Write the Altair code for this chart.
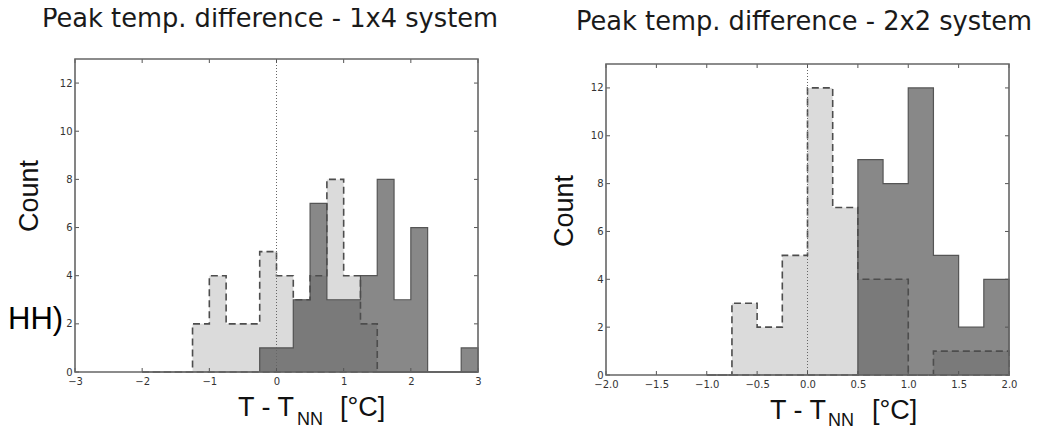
import altair as alt
import pandas as pd

# ---------------- text ----------------
TITLES = ["Peak temp. difference - 1x4 system", "Peak temp. difference - 2x2 system"]
Y_TITLE = "Count"
X_TITLE_MAIN = "T - T"
X_TITLE_SUB = "NN"
X_TITLE_UNIT = "[°C]"
SIDE_TEXT = "HH)"

# ---------------- data: left panel (1x4 system) ----------------
L_EDGES = [-2.0, -1.75, -1.5, -1.25, -1.0, -0.75, -0.5, -0.25, 0.0, 0.25,
           0.5, 0.75, 1.0, 1.25, 1.5, 1.75, 2.0, 2.25, 2.5, 2.75, 3.0]
L_LIGHT = [0, 0, 0, 2, 4, 2, 2, 5, 4, 3, 4, 8, 4, 2, 0, 0, 0, 0, 0, 0]
L_DARK = [0, 0, 0, 0, 0, 0, 0, 1, 1, 3, 7, 3, 3, 4, 8, 3, 6, 0, 0, 1]
L_XDOM = [-3, 3]
L_XTICKS = [-3, -2, -1, 0, 1, 2, 3]

# ---------------- data: right panel (2x2 system) ----------------
R_EDGES = [-1.0, -0.75, -0.5, -0.25, 0.0, 0.25, 0.5, 0.75, 1.0, 1.25, 1.5, 1.75, 2.0]
R_LIGHT = [0, 3, 2, 5, 12, 7, 4, 4, 0, 1, 1, 1]
R_DARK = [0, 0, 0, 0, 0, 0, 9, 8, 12, 5, 2, 4]
R_XDOM = [-2, 2]
R_XTICKS = [-2.0, -1.5, -1.0, -0.5, 0.0, 0.5, 1.0, 1.5, 2.0]

Y_DOM = [0, 13]
Y_TICKS = [0, 2, 4, 6, 8, 10, 12]
REF_LINE = [0]

TICK_FONT = "DejaVu Sans"
LABEL_FONT = "Liberation Sans"


def step_table(edges, counts):
    return pd.DataFrame({"x": edges, "c": list(counts) + [counts[-1]]})


def panel(edges, light, dark, xdom, xticks, xfmt, W, H, ox, ytop,
          title, tpos, cpos, xtpos, side=None):
    xs = alt.Scale(domain=xdom, range=[ox, W], nice=False, zero=False)
    ys = alt.Scale(domain=Y_DOM, range=[H, ytop], nice=False)
    xaxis = alt.Axis(values=xticks, format=xfmt, ticks=False, tickSize=0, domain=False,
                     grid=False, labelFont=TICK_FONT, labelFontSize=10, labelColor="#333333",
                     labelPadding=4, labelFlush=False, labelOverlap=False, title=None)
    yaxis = alt.Axis(values=Y_TICKS, format="d", ticks=False, tickSize=0, domain=False,
                     grid=False, labelFont=TICK_FONT, labelFontSize=10, labelColor="#333333",
                     labelPadding=3, labelOverlap=False, title=None, offset=-ox)

    dark_area = alt.Chart(step_table(edges, dark)).mark_area(
        interpolate="step-after", fill="#888888", fillOpacity=1,
        stroke="#555555", strokeWidth=1.2, strokeOpacity=1
    ).encode(x=alt.X("x:Q", scale=xs, axis=xaxis), y=alt.Y("c:Q", scale=ys, axis=yaxis))

    light_area = alt.Chart(step_table(edges, light)).mark_area(
        interpolate="step-after", fill="#3f3f3f", fillOpacity=0.19,
        stroke="#4d4d4d", strokeWidth=1.6, strokeOpacity=1, strokeDash=[7, 4]
    ).encode(x=alt.X("x:Q", scale=xs, axis=xaxis), y=alt.Y("c:Q", scale=ys, axis=yaxis))

    zero_rule = alt.Chart(pd.DataFrame({"v": REF_LINE})).mark_rule(
        color="#666666", strokeWidth=1, strokeDash=[1, 2]
    ).encode(x=alt.X("v:Q", scale=xs, axis=xaxis), y=alt.value(ytop), y2=alt.value(H))

    xt_df = pd.DataFrame({"v": xticks})
    yt_df = pd.DataFrame({"v": Y_TICKS})
    tick_style = dict(color="#555555", strokeWidth=1)
    xt_bottom = alt.Chart(xt_df).mark_rule(**tick_style).encode(
        x=alt.X("v:Q", scale=xs, axis=xaxis), y=alt.value(H - 4), y2=alt.value(H))
    xt_top = alt.Chart(xt_df).mark_rule(**tick_style).encode(
        x=alt.X("v:Q", scale=xs, axis=xaxis), y=alt.value(ytop), y2=alt.value(ytop + 4))
    yt_left = alt.Chart(yt_df).mark_rule(**tick_style).encode(
        y=alt.Y("v:Q", scale=ys, axis=yaxis), x=alt.value(ox), x2=alt.value(ox + 4))
    yt_right = alt.Chart(yt_df).mark_rule(**tick_style).encode(
        y=alt.Y("v:Q", scale=ys, axis=yaxis), x=alt.value(W - 4), x2=alt.value(W))

    frame = alt.Chart(pd.DataFrame({"k": [0]})).mark_rect(
        filled=False, stroke="#666666", strokeWidth=1.6
    ).encode(x=alt.value(ox), x2=alt.value(W), y=alt.value(ytop), y2=alt.value(H))

    title_t = alt.Chart(pd.DataFrame({"t": [title]})).mark_text(
        font=TICK_FONT, fontSize=25.7, align="center", baseline="alphabetic", color="#1a1a1a"
    ).encode(x=alt.value(tpos[0]), y=alt.value(tpos[1]), text="t:N")

    count_t = alt.Chart(pd.DataFrame({"t": [Y_TITLE]})).mark_text(
        font=LABEL_FONT, fontSize=27, align="center", baseline="alphabetic", angle=270,
        color="#111111"
    ).encode(x=alt.value(cpos[0]), y=alt.value(cpos[1]), text="t:N")

    xt_main = alt.Chart(pd.DataFrame({"t": [X_TITLE_MAIN]})).mark_text(
        font=LABEL_FONT, fontSize=27, align="left", baseline="alphabetic", color="#111111"
    ).encode(x=alt.value(xtpos[0]), y=alt.value(xtpos[3]), text="t:N")
    xt_sub = alt.Chart(pd.DataFrame({"t": [X_TITLE_SUB]})).mark_text(
        font=LABEL_FONT, fontSize=18, align="left", baseline="alphabetic", color="#111111"
    ).encode(x=alt.value(xtpos[1]), y=alt.value(xtpos[4]), text="t:N")
    xt_unit = alt.Chart(pd.DataFrame({"t": [X_TITLE_UNIT]})).mark_text(
        font=LABEL_FONT, fontSize=27, align="left", baseline="alphabetic", color="#111111"
    ).encode(x=alt.value(xtpos[2]), y=alt.value(xtpos[3]), text="t:N")

    layers = [dark_area, light_area, zero_rule, xt_bottom, xt_top, yt_left, yt_right,
              frame, title_t, count_t, xt_main, xt_sub, xt_unit]
    if side is not None:
        side_t = alt.Chart(pd.DataFrame({"t": [SIDE_TEXT]})).mark_text(
            font=LABEL_FONT, fontSize=31, align="left", baseline="alphabetic",
            color="#000000", clip=True
        ).encode(x=alt.value(side[0]), y=alt.value(side[1]), text="t:N")
        layers.append(side_t)
    return alt.layer(*layers).properties(width=W, height=H)


left = panel(L_EDGES, L_LIGHT, L_DARK, L_XDOM, L_XTICKS, "d",
             W=470, H=313, ox=67, ytop=0, title=TITLES[0],
             tpos=(262, -32), cpos=(30, 137), xtpos=(230, 289, 332, 357, 366),
             side=(0, 270))

right = panel(R_EDGES, R_LIGHT, R_DARK, R_XDOM, R_XTICKS, ".1f",
              W=403, H=316, ox=0, ytop=5, title=TITLES[1],
              tpos=(198, -29), cpos=(-33, 152), xtpos=(164, 222, 266, 360, 367))

chart = alt.hconcat(
    left, right, spacing=128, bounds="flush",
    padding={"left": 0, "top": -2, "right": 0, "bottom": 0},
    background="white",
).configure_view(stroke=None)

chart.save("out.html", embed_options={"renderer": "svg", "actions": False})
